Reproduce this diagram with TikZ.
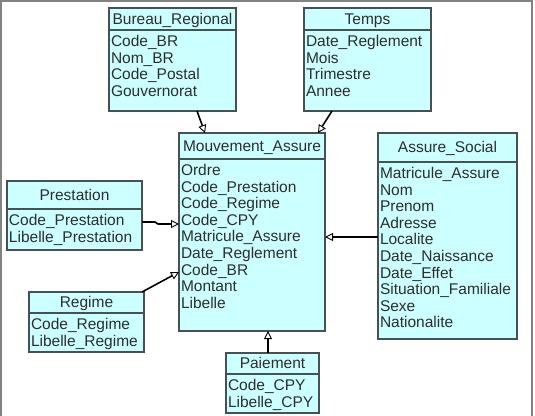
\documentclass[tikz,border=0pt]{standalone}
\usepackage{fontspec}
\setmainfont{Liberation Sans}
\usetikzlibrary{arrows.meta}

\definecolor{boxfill}{RGB}{204,255,255}
\definecolor{boxline}{RGB}{70,82,82}
\definecolor{boxtext}{RGB}{45,45,45}
\definecolor{framegray}{RGB}{130,130,130}

\tikzset{
  classframe/.style={draw=boxline, fill=boxfill, line width=1.1pt,
    rectangle, inner sep=0pt, outer sep=0pt, anchor=north west},
  divider/.style={draw=boxline, line width=1.1pt},
  classtext/.style={inner sep=0pt, outer sep=0pt, text=boxtext,
    font=\fontsize{15.5}{16.6}\selectfont},
  gen/.style={draw=black, line width=1.6pt,
    -{Triangle[open, length=8pt, width=8pt, line width=0.9pt]}},
}

% #1 name, #2 x, #3 y, #4 width, #5 height, #6 header height, #7 title, #8 attributes
\newcommand\classbox[8]{%
  \node[classframe, minimum width=#4pt, minimum height=#5pt] (#1) at (#2,#3) {};
  \draw[divider] ([yshift=-#6pt]#1.north west) -- ([yshift=-#6pt]#1.north east);
  \node[classtext, anchor=base] (#1-title)
    at ([yshift={-(#6/2+5)*1pt}]#1.north) {#7};
  \foreach \attr [count=\i] in {#8}
    \node[classtext, anchor=base west] (#1-\i)
      at ([xshift=2pt, yshift={-(#6+16.5+(\i-1)*16.6)*1pt}]#1.north west) {\attr};
}

\begin{document}
\begin{tikzpicture}[x=1pt, y=-1pt]
  \useasboundingbox (0,0) rectangle (535,415);

  % outer frame
  \draw[framegray, line width=1.5pt] (1,418) -- (1,1) -- (532,1) -- (532,418);

  \classbox{bureau}{109}{8}{127}{103}{22}{Bureau\_Regional}
    {Code\_BR, Nom\_BR, Code\_Postal, Gouvernorat}
  \classbox{temps}{304}{8}{127}{103}{22}{Temps}
    {Date\_Reglement, Mois, Trimestre, Annee}
  \classbox{mouv}{179}{133}{146}{198}{26}{Mouvement\_Assure}
    {Ordre, Code\_Prestation, Code\_Regime, Code\_CPY, Matricule\_Assure,
     Date\_Reglement, Code\_BR, Montant, Libelle}
  \classbox{assure}{378}{133}{139}{206}{29}{Assure\_Social}
    {Matricule\_Assure, Nom, Prenom, Adresse, Localite, Date\_Naissance,
     Date\_Effet, Situation\_Familiale, Sexe, Nationalite}
  \classbox{prest}{7}{181}{135}{69}{28}{Prestation}
    {Code\_Prestation, Libelle\_Prestation}
  \classbox{regime}{29}{292}{115}{60}{21}{Regime}
    {Code\_Regime, Libelle\_Regime}
  \classbox{paie}{226}{353}{93}{60}{21}{Paiement}
    {Code\_CPY, Libelle\_CPY}

  % links towards the central table
  \draw[gen] ([xshift=88pt]bureau.south west) -- ([xshift=26pt]mouv.north west);
  \draw[gen] ([xshift=28pt]temps.south west) -- ([xshift=-7pt]mouv.north east);
  \draw[gen] ([yshift=-41pt]prest.north east) -- ++(13,0) -- ++(3,2)
    -- ([yshift=-91pt]mouv.north west);
  \draw[gen] ([yshift=-104pt]assure.north west) -- ([yshift=-104pt]mouv.north east);
  \draw[gen] ([xshift=-2pt]regime.north east) -- ([yshift=-139pt]mouv.north west);
  \draw[gen] ([xshift=42pt]paie.north west) -- ([xshift=89pt]mouv.south west);
\end{tikzpicture}
\end{document}
